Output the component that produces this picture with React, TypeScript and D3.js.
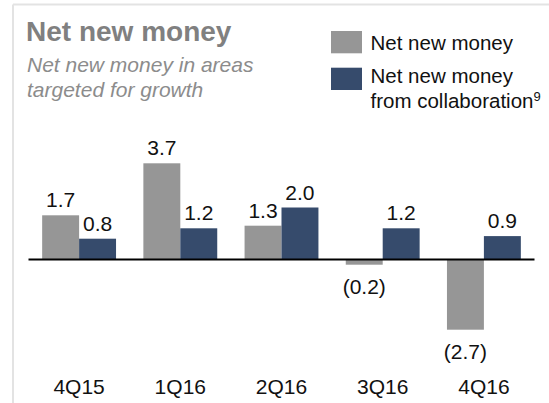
import React from "react";
import * as d3 from "d3";

const categories = ["4Q15", "1Q16", "2Q16", "3Q16", "4Q16"];
const netNewMoney = [1.7, 3.7, 1.3, -0.2, -2.7];
const fromCollaboration = [0.8, 1.2, 2.0, 1.2, 0.9];
const seriesKeys = ["nnm", "collab"];
const seriesNames = ["Net new money", "Net new money"];

const W = 549;
const H = 403;
const GRAY = "#969696";
const BLUE = "#364b6c";
const FONT = "Liberation Sans, Arial, Helvetica, sans-serif";

const fmt = (v: number) => (v < 0 ? `(${Math.abs(v).toFixed(1)})` : v.toFixed(1));

export default function App() {
  const baseY = 259.5;
  const pxPerUnit = 26;
  const x0 = d3.scaleBand<string>().domain(categories).range([28.5, 534.5]).paddingInner(0.27).paddingOuter(0.135);
  const x1 = d3.scaleBand<string>().domain(seriesKeys).range([0, x0.bandwidth()]);
  const y = d3.scaleLinear().domain([-2.7, 3.7]).range([baseY + 2.7 * pxPerUnit, baseY - 3.7 * pxPerUnit]);
  const colors = [GRAY, BLUE];
  const series = [netNewMoney, fromCollaboration];

  return (
    <svg width={W} height={H} style={{ position: "absolute", left: 0, top: 0 }} fontFamily={FONT}>
      <rect width={W} height={H} fill="#fff" />
      {/* frame */}
      <line x1={13} y1={4.5} x2={W} y2={4.5} stroke="#e3e3e3" strokeWidth={2} />
      <line x1={13} y1={4.5} x2={13} y2={H} stroke="#e3e3e3" strokeWidth={2} />

      {/* title */}
      <text x={26} y={40.7} fontSize={28} fontWeight="bold" fill="#808080">Net new money</text>
      <text x={27} y={71.7} fontSize={21} fontStyle="italic" fill="#8c8c8c">Net new money in areas</text>
      <text x={27} y={96.7} fontSize={21} fontStyle="italic" fill="#8c8c8c">targeted for growth</text>

      {/* legend */}
      <rect x={331} y={31} width={31} height={22.3} fill={GRAY} />
      <text x={370.5} y={50} fontSize={20.5} fill="#111">{seriesNames[0]}</text>
      <rect x={331} y={67.7} width={31} height={22.3} fill={BLUE} />
      <text x={370.5} y={83.3} fontSize={20.5} fill="#111">{seriesNames[1]}</text>
      <text x={370.5} y={107.5} fontSize={20.5} fill="#111">
        from collaboration<tspan fontSize={13} dy={-7}>9</tspan>
      </text>

      {/* bars */}
      {categories.map((c, i) => (
        <g key={c} transform={`translate(${x0(c)},0)`}>
          {seriesKeys.map((k, j) => {
            const v = series[j][i];
            const top = Math.min(y(v), y(0));
            const h = Math.abs(y(v) - y(0));
            const bx = x1(k)!;
            const cx = bx + x1.bandwidth() / 2;
            return (
              <g key={k}>
                <rect x={bx} y={top} width={x1.bandwidth()} height={h} fill={colors[j]} />
                <text
                  x={cx}
                  y={v >= 0 ? y(v) - 8 : y(v) + 29}
                  textAnchor="middle"
                  fontSize={21}
                  fill="#111"
                >
                  {fmt(v)}
                </text>
              </g>
            );
          })}
          <text x={x0.bandwidth() / 2} y={394.3} textAnchor="middle" fontSize={21} fill="#111">{c}</text>
        </g>
      ))}

      {/* zero line */}
      <line x1={x0.range()[0]} x2={x0.range()[1]} y1={y(0)} y2={y(0)} stroke="#000" strokeWidth={2} />
    </svg>
  );
}
